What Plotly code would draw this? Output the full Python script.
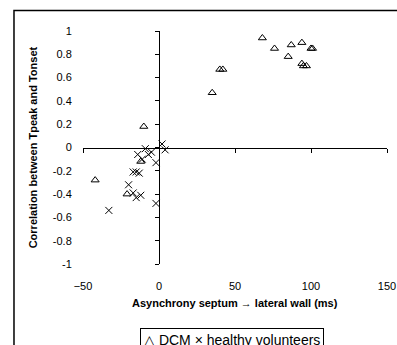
import plotly.graph_objects as go

# DCM patients
dcm_x = [68, 76, 87, 94, 100, 101, 85, 94, 97, 95, 40, 42, 35, -10, -12, -42, -21]
dcm_y = [0.94, 0.85, 0.88, 0.90, 0.85, 0.85, 0.78, 0.72, 0.70, 0.70, 0.67, 0.67, 0.47, 0.18, -0.12, -0.28, -0.40]

# healthy volunteers
hv_x = [2, 4, -9, -5, -7, -14, -2, -11, -17, -15, -13, -20, -17, -15, -12, -33, -2]
hv_y = [0.03, -0.02, -0.01, -0.04, -0.06, -0.06, -0.13, -0.10, -0.21, -0.21, -0.22, -0.32, -0.39, -0.43, -0.41, -0.54, -0.48]

x_ticks = [-50, 0, 50, 100, 150]
y_ticks = [1, 0.8, 0.6, 0.4, 0.2, 0, -0.2, -0.4, -0.6, -0.8, -1]
y_ticklabels = ["1", "0.8", "0.6", "0.4", "0.2", "0", "-0.2", "-0.4", "-0.6", "-0.8", "-1"]

series_names = ["DCM", "healthy volunteers"]
legend_glyphs = ["\u25B3", "\u00D7"]

FONT = "Arial, Liberation Sans, sans-serif"

fig = go.Figure()
fig.add_trace(go.Scatter(
    x=dcm_x, y=dcm_y, mode="markers", name=series_names[0], showlegend=False,
    marker=dict(symbol="triangle-up-open", size=7, color="black", line=dict(width=1, color="black")),
))
fig.add_trace(go.Scatter(
    x=hv_x, y=hv_y, mode="markers", name=series_names[1], showlegend=False,
    marker=dict(symbol="x-thin-open", size=7, color="black", line=dict(width=1, color="black")),
))

fig.update_layout(
    width=397, height=345,
    margin=dict(l=83, r=10, t=30.5, b=81, autoexpand=False),
    paper_bgcolor="white", plot_bgcolor="white",
    font=dict(family=FONT, size=11, color="black"),
    showlegend=False,
    xaxis=dict(
        range=[-50, 150], tickvals=x_ticks, showgrid=False, zeroline=False, showline=False,
        ticks="outside", ticklen=12, tickcolor="rgba(0,0,0,0)", fixedrange=True,
        tickfont=dict(size=11, family=FONT), automargin=False,
    ),
    yaxis=dict(
        range=[-1, 1], tickvals=y_ticks, ticktext=y_ticklabels, showgrid=False, zeroline=False,
        showline=False, ticks="outside", ticklen=8, tickcolor="rgba(0,0,0,0)", fixedrange=True,
        tickfont=dict(size=11, family=FONT), automargin=False,
    ),
    xaxis2=dict(
        overlaying="x", matches="x", anchor="free", position=0.5, range=[-50, 150],
        tickvals=x_ticks, showticklabels=False, showgrid=False, zeroline=False,
        showline=True, linecolor="black", linewidth=1, ticks="outside", ticklen=4,
        tickcolor="black", tickwidth=1,
    ),
    yaxis2=dict(
        overlaying="y", matches="y", anchor="free", position=0.25, range=[-1, 1],
        tickvals=y_ticks, showticklabels=False, showgrid=False, zeroline=False,
        showline=True, linecolor="black", linewidth=1, ticks="outside", ticklen=4,
        tickcolor="black", tickwidth=1,
    ),
)

# invisible trace to make sure the crossing axes are drawn
fig.add_trace(go.Scatter(x=[None], y=[None], xaxis="x2", yaxis="y2", showlegend=False, hoverinfo="skip"))

fig.add_annotation(
    text="<b>Asynchrony septum \u2192 lateral wall (ms)</b>", xref="paper", yref="paper",
    x=0.5, y=-0.168, xanchor="center", yanchor="middle", showarrow=False,
    font=dict(size=11, family=FONT, color="black"),
)
fig.add_annotation(
    text="<b>Correlation between Tpeak and Tonset</b>", xref="paper", yref="paper",
    x=-0.165, y=0.5, xanchor="center", yanchor="middle", textangle=-90, showarrow=False,
    font=dict(size=11, family=FONT, color="black"),
)

# legend box (clipped at the bottom like the reference)
legend_text = " ".join(f"{g} {n}" for g, n in zip(legend_glyphs, series_names))
fig.add_annotation(
    text=legend_text, xref="paper", yref="paper",
    x=0.1875, y=-0.274, xanchor="left", yanchor="top", showarrow=False,
    font=dict(size=14, family=FONT, color="black"),
    bordercolor="black", borderwidth=1, borderpad=3, bgcolor="white",
)

# outer chart-area border (clipped on right and bottom like the reference)
fig.add_shape(
    type="rect", xref="paper", yref="paper", x0=-0.227, y0=-0.5, x1=1.2, y1=1.088,
    line=dict(color="black", width=1.5), layer="below",
)

fig.write_html(
    "out.html",
    config={"displayModeBar": False},
    post_script="document.body.style.margin='0';document.body.style.overflow='hidden';",
)
